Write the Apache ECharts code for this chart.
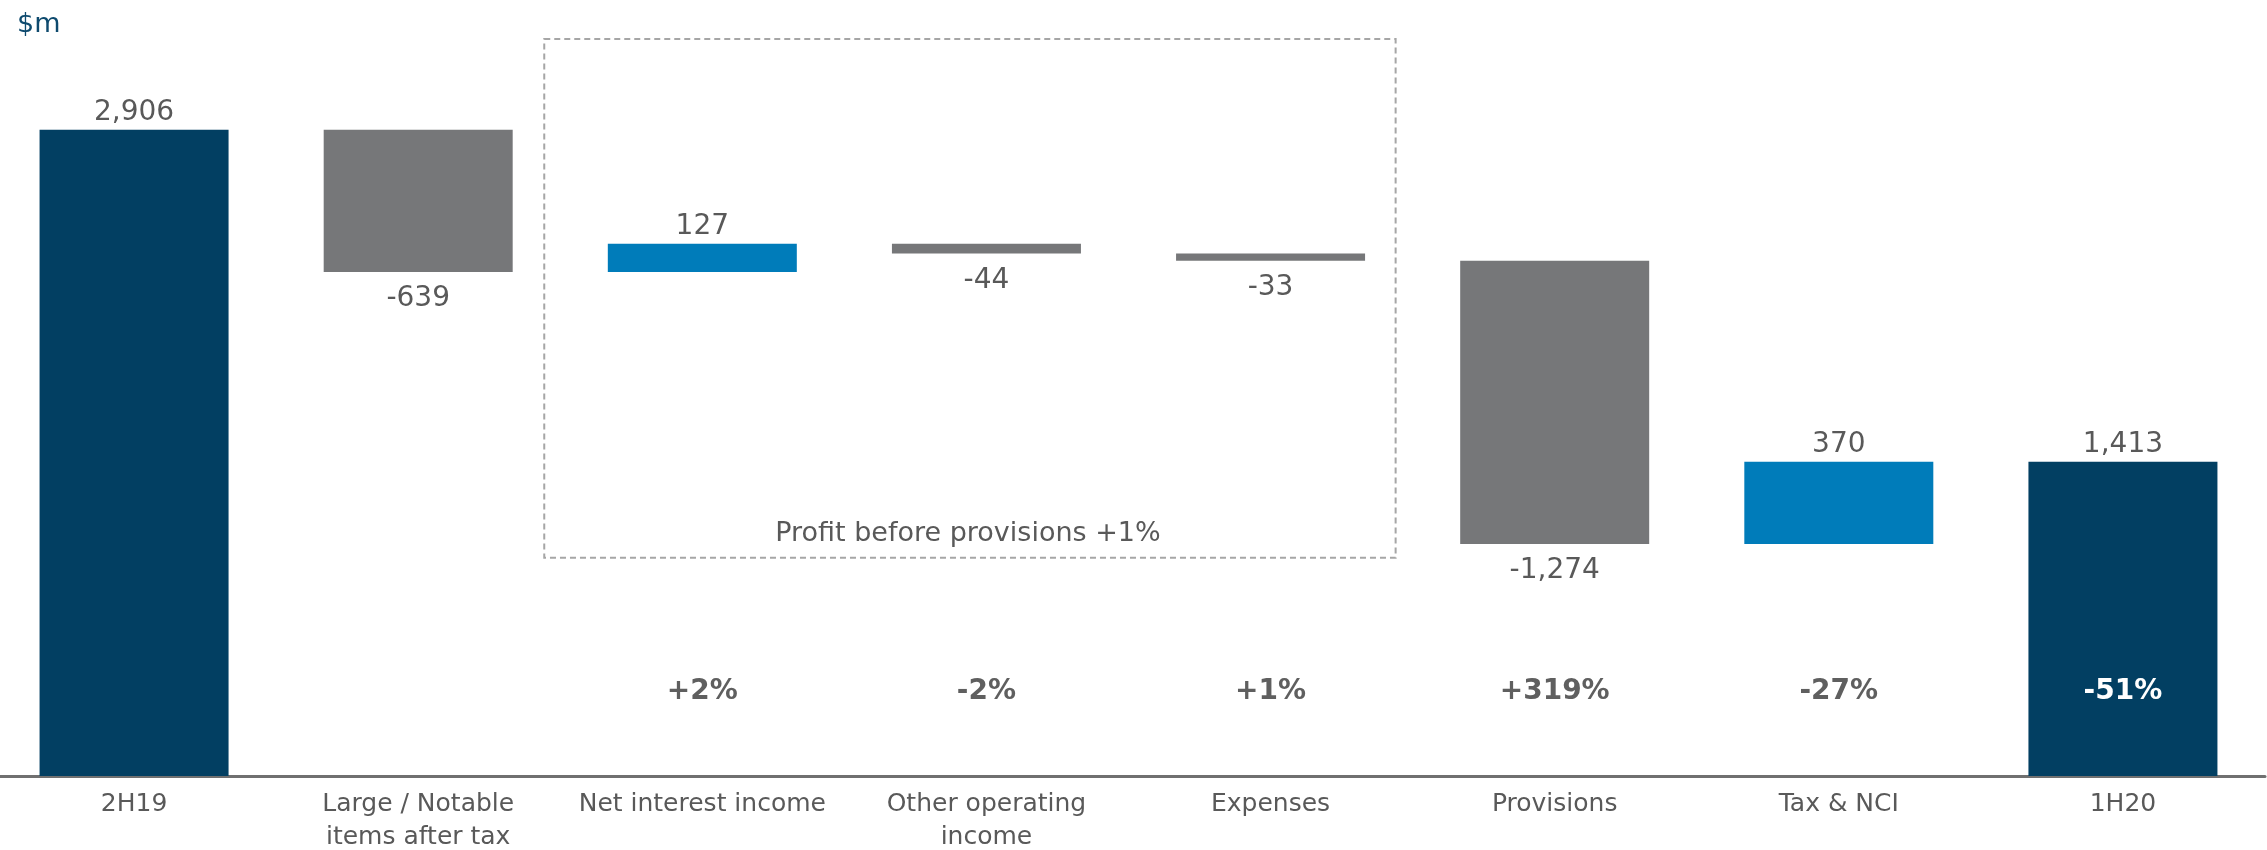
<!DOCTYPE html>
<html>
<head>
<meta charset="utf-8">
<script src="https://cdn.jsdelivr.net/npm/echarts@6/dist/echarts.min.js"></script>
<style>
  html, body { margin: 0; padding: 0; background: #fff; }
  #chart { width: 2267px; height: 850px; }
</style>
</head>
<body>
<div id="chart"></div>
<script>
// bridge: half-year profit movements ($m)
const categories = ['2H19', 'Large / Notable\nitems after tax', 'Net interest income', 'Other operating\nincome', 'Expenses', 'Provisions', 'Tax & NCI', '1H20'];
const amounts = [2906, -639, 127, -44, -33, -1274, 370, 1413];
const isTotal = [true, false, false, false, false, false, false, true];
const pctChanges = ['', '', '+2%', '-2%', '+1%', '+319%', '-27%', '-51%'];
const boxCaption = 'Profit before provisions +1%';

const NAVY = '#023F62';
const BLUE = '#007CBA';
const GREY = '#767779';
const TEXT = '#595959';
const FONT = '"DejaVu Sans", Verdana, sans-serif';

// running total -> invisible base + visible floating bar
let running = 0;
const base = [];
const bars = [];
amounts.forEach((v, i) => {
  if (isTotal[i]) {
    base.push(0);
    bars.push({ value: v, itemStyle: { color: NAVY }, label: { position: 'top', distance: 3 } });
    running = v;
  } else {
    const next = running + v;
    base.push(Math.min(running, next));
    bars.push({
      value: Math.abs(v),
      itemStyle: { color: v >= 0 ? BLUE : GREY },
      label: v >= 0 ? { position: 'top', distance: 3 } : { position: 'bottom', distance: 13 }
    });
    running = next;
  }
});

const PCT_LEVEL = 378;   // height (in $m) where the % change row sits
const BOX_TOP = 3315, BOX_BOTTOM = 981;

const chart = echarts.init(document.getElementById('chart'));

chart.setOption({
  animation: false,
  title: {
    text: '$m', left: 12, top: 6,
    textStyle: { color: '#0E4A6E', fontSize: 27, fontWeight: 'normal', fontFamily: FONT }
  },
  grid: { left: -8, right: 2, top: 20, bottom: 74, outerBoundsMode: 'none', containLabel: false },
  xAxis: {
    type: 'category',
    data: categories,
    axisLine: { lineStyle: { color: '#707070', width: 3 } },
    axisTick: { show: false },
    axisLabel: { interval: 0, color: TEXT, fontSize: 25, lineHeight: 33, margin: 12, fontFamily: FONT }
  },
  yAxis: { type: 'value', min: 0, max: 3400, show: false, splitLine: { show: false } },
  series: [
    {
      type: 'bar', stack: 'w', data: base, barWidth: 189,
      itemStyle: { color: 'transparent' }, silent: true
    },
    {
      type: 'bar', stack: 'w', data: bars, barWidth: 189,
      label: {
        show: true, color: TEXT, fontSize: 28, fontFamily: FONT,
        formatter: p => amounts[p.dataIndex].toLocaleString('en-US')
      }
    },
    {
      type: 'scatter', symbolSize: 0, itemStyle: { opacity: 1 },
      data: pctChanges.map((t, i) => t ? (isTotal[i] ? { value: PCT_LEVEL, label: { color: '#fff' } } : PCT_LEVEL) : '-'),
      label: {
        show: true, position: 'inside', fontSize: 28, fontWeight: 'bold', fontFamily: FONT,
        color: '#5f5f5f', opacity: 1,
        formatter: p => pctChanges[p.dataIndex]
      },
      z: 5
    }
  ]
});

// dashed box around the pre-provision items
function drawBox() {
  const c1 = chart.convertToPixel({ xAxisIndex: 0 }, 1);
  const c2 = chart.convertToPixel({ xAxisIndex: 0 }, 2);
  const c4 = chart.convertToPixel({ xAxisIndex: 0 }, 4);
  const c5 = chart.convertToPixel({ xAxisIndex: 0 }, 5);
  const x0 = (c1 + c2) / 2 - 16;
  const x1 = (c4 + c5) / 2 - 17;
  const y0 = chart.convertToPixel({ yAxisIndex: 0 }, BOX_TOP);
  const y1 = chart.convertToPixel({ yAxisIndex: 0 }, BOX_BOTTOM);
  chart.setOption({
    graphic: [
      {
        type: 'rect', shape: { x: x0, y: y0, width: x1 - x0, height: y1 - y0 },
        style: { fill: 'none', stroke: '#A6A6A6', lineWidth: 2, lineDash: [6, 4] }, z: 1
      },
      {
        type: 'text', x: (x0 + x1) / 2 - 2, y: y1 - 24,
        style: { text: boxCaption, fill: TEXT, font: '27px ' + FONT, align: 'center', verticalAlign: 'middle' }
      }
    ]
  });
}
drawBox();
</script>
</body>
</html>
